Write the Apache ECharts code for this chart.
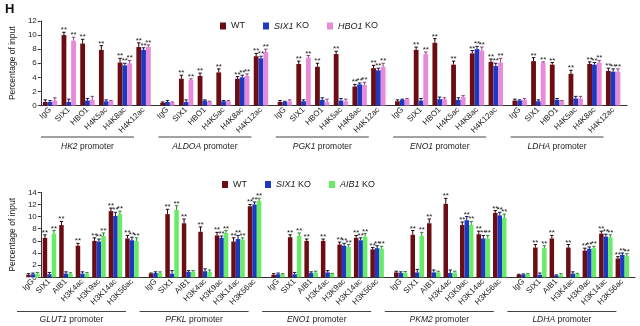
<!DOCTYPE html>
<html><head><meta charset="utf-8">
<script src="https://cdn.jsdelivr.net/npm/echarts@6/dist/echarts.min.js"></script>
<style>html,body{margin:0;padding:0;background:#fff}#c{width:640px;height:326px}</style>
</head><body><div id="c"></div>
<script>
// ---------- DATA ----------
const topGroups = ['HK2','ALDOA','PGK1','ENO1','LDHA'];
const topCats = ['IgG','SIX1','HBO1','H4K5ac','H4K8ac','H4K12ac'];
const topWT = [
  [0.5,10.0,8.8,7.9,6.1,8.3],
  [0.4,3.8,4.2,4.7,3.8,7.0],
  [0.5,5.9,5.5,7.3,2.7,5.3],
  [0.6,7.9,8.9,5.8,7.4,6.2],
  [0.7,6.3,5.8,4.5,5.9,4.9]];
const topSIX1KO = [
  [0.5,0.5,0.7,0.6,5.7,7.9],
  [0.5,0.5,0.7,0.6,4.0,6.7],
  [0.5,0.6,0.8,0.7,3.0,5.0],
  [0.8,0.7,0.9,0.8,8.0,5.6],
  [0.7,0.6,0.8,1.0,5.8,4.8]];
const topHBO1KO = [
  [0.7,9.2,0.8,0.6,6.0,8.3],
  [0.4,3.6,0.5,0.6,4.2,7.6],
  [0.6,6.8,0.5,0.6,2.9,5.5],
  [0.9,7.3,0.9,1.2,7.8,6.1],
  [0.8,6.1,0.6,1.0,6.1,4.8]];
const topWTErr = [
  [0.3,0.4,0.6,0.6,0.6,0.6],
  [0.1,0.5,0.4,0.5,0.3,0.4],
  [0.2,0.4,0.5,0.4,0.3,0.4],
  [0.2,0.4,0.6,0.5,0.4,0.4],
  [0.2,0.5,0.3,0.5,0.3,0.4]];
const topSIX1KOErr = [
  [0.2,0.4,0.3,0.2,0.3,0.3],
  [0.2,0.3,0.1,0.1,0.3,0.3],
  [0.1,0.2,0.3,0.3,0.2,0.3],
  [0.1,0.3,0.3,0.3,0.4,0.4],
  [0.1,0.2,0.2,0.3,0.3,0.4]];
const topHBO1KOErr = [
  [0.4,0.5,0.5,0.1,0.4,0.3],
  [0.1,0.2,0.1,0.1,0.3,0.4],
  [0.2,0.3,0.4,0.3,0.4,0.5],
  [0.1,0.3,0.2,0.2,0.5,0.6],
  [0.2,0.1,0.1,0.3,0.3,0.4]];
const topSigWT     = ['','**','**','**','**','**'];
const topSigSIX1KO = ['','','','','**','**'];
const topSigHBO1KO = ['','**','','','**','**'];

const botGroups = ['GLUT1','PFKL','ENO1','PKM2','LDHA'];
const botCats = ['IgG','SIX1','AIB1','H3K4ac','H3K9ac','H3K14ac','H3K56ac'];
const botWT = [
  [0.4,6.5,8.6,5.2,6.0,10.9,6.4],
  [0.6,10.4,8.9,7.5,6.9,5.9,11.7],
  [0.4,6.6,6.0,6.0,5.4,6.5,4.6],
  [0.8,7.0,8.9,12.1,8.6,7.1,10.6],
  [0.4,4.9,6.4,4.9,4.4,7.2,3.1]];
const botSIX1KO = [
  [0.5,0.5,0.6,0.6,5.9,10.1,6.1],
  [0.7,0.6,0.9,1.0,6.5,6.3,12.0],
  [0.5,0.5,0.7,0.8,5.2,6.1,4.8],
  [0.7,0.8,0.8,0.7,9.4,6.4,10.2],
  [0.45,0.4,0.3,0.6,4.7,6.7,3.7]];
const botAIB1KO = [
  [0.6,7.2,0.55,0.6,6.8,10.4,6.0],
  [0.7,11.1,0.9,0.9,7.3,6.2,12.6],
  [0.5,6.8,0.8,0.55,5.0,6.7,4.7],
  [0.75,6.8,0.8,0.8,8.6,6.4,9.8],
  [0.5,4.8,0.4,0.55,4.8,6.6,3.5]];
const botWTErr = [
  [0.2,0.5,0.6,0.4,0.5,0.5,0.5],
  [0.1,0.8,0.7,0.8,0.5,0.6,0.3],
  [0.2,0.4,0.3,0.3,0.4,0.4,0.3],
  [0.2,0.7,0.7,0.9,0.5,0.5,0.4],
  [0.1,0.5,0.5,0.5,0.4,0.4,0.3]];
const botSIX1KOErr = [
  [0.2,0.3,0.3,0.3,0.4,0.6,0.5],
  [0.2,0.5,0.2,0.4,0.3,0.6,0.4],
  [0.2,0.3,0.2,0.3,0.4,0.4,0.4],
  [0.2,0.5,0.4,0.5,0.6,0.5,0.5],
  [0.1,0.3,0.1,0.3,0.3,0.4,0.3]];
const botAIB1KOErr = [
  [0.2,0.5,0.2,0.2,0.5,0.5,0.5],
  [0.2,0.7,0.2,0.3,0.4,0.3,0.4],
  [0.1,0.5,0.2,0.1,0.4,0.5,0.4],
  [0.2,0.6,0.2,0.2,0.6,0.5,0.6],
  [0.1,0.4,0.2,0.1,0.3,0.4,0.4]];
const botSigWT     = ['','**','**','**','**','**','**'];
const botSigSIX1KO = ['','','','','**','**','**'];
const botSigAIB1KO = ['','**','','','**','**','**'];

// ---------- STYLE ----------
const C_WT = '#6b0d12', C_SIX1 = '#1c39c4', C_HBO1 = '#e68ad9', C_AIB1 = '#68ec68';
const E_WT = '#2a0306', E_SIX1 = '#0a1660', E_HBO1 = '#8a3f82', E_AIB1 = '#2a8a2a';
const FONT = 'Liberation Sans, Arial, sans-serif';
const TXT = '#222';

const option = {animation:false, textStyle:{fontFamily:FONT}, grid:[], xAxis:[], yAxis:[], series:[], legend:[], graphic:[]};

function addPanel(p){
  const base = option.grid.length;
  const h = p.zeroY - p.top;
  option.grid.push({left:p.left, width:p.right-p.left, top:p.top, height:h});
  option.xAxis.push({gridIndex:base, type:'category', data:p.groups, boundaryGap:true,
    axisLine:{lineStyle:{color:'#333', width:1}},
    axisTick:{inside:true, length:3, lineStyle:{color:'#333'}},
    axisLabel:{show:false}});
  option.yAxis.push({gridIndex:base, type:'value', min:0, max:p.max, interval:2,
    splitLine:{show:false},
    axisLine:{show:true, lineStyle:{color:'#333'}},
    axisTick:{show:true, length:3, lineStyle:{color:'#333'}},
    axisLabel:{fontSize:8, color:TXT, margin:4, fontFamily:FONT},
    name:'Percentage of input', nameLocation:'middle', nameGap:p.nameGap,
    nameTextStyle:{fontSize:8.5, color:TXT, fontFamily:FONT}});
  const gw = (p.right - p.left)/p.groups.length;
  p.groups.forEach((gName, g) => {
    const gi = option.grid.length;
    const gl = p.left + g*gw + p.padL;
    option.grid.push({left:gl, width:p.cats.length*p.catW, top:p.top, height:h});
    option.xAxis.push({gridIndex:gi, type:'category', data:p.cats,
      axisLine:{show:false}, axisTick:{show:false},
      axisLabel:{interval:0, rotate:45, fontSize:8, color:TXT, margin:3, fontFamily:FONT}});
    option.yAxis.push({gridIndex:gi, type:'value', min:0, max:p.max, show:false});
    p.series.forEach(s => {
      option.series.push({type:'bar', name:s.name, xAxisIndex:gi, yAxisIndex:gi,
        data:s.values[g], barWidth:p.bw, barGap:'0%', itemStyle:{color:s.color}, silent:true});
    });
    const errData = [];
    p.series.forEach((s, si) => s.values[g].forEach((v, ci) =>
      errData.push([ci, v, si, s.errors[g][ci], s.sig[ci] === '**' ? 1 : 0])));
    option.series.push({type:'custom', xAxisIndex:gi, yAxisIndex:gi, data:errData,
      encode:{x:0, y:1}, clip:false, z:5, silent:true,
      renderItem:(params, api) => {
        const ci = api.value(0), v = api.value(1), si = api.value(2), e = api.value(3), sg = api.value(4);
        const b = api.coord([ci, v]);
        const t = api.coord([ci, v + e]);
        const x = b[0] + (si - 1) * p.bw;
        const col = p.series[si].ecolor;
        const children = [
          {type:'line', shape:{x1:x, y1:b[1], x2:x, y2:t[1]}, style:{stroke:col, lineWidth:1}},
          {type:'line', shape:{x1:x-1.7, y1:t[1], x2:x+1.7, y2:t[1]}, style:{stroke:col, lineWidth:1}}
        ];
        if (sg) children.push({type:'text', x:x, y:t[1]+1.8, style:{text:'**', fill:'#1a1a1a',
          font:'8px ' + FONT, align:'center', verticalAlign:'bottom'}});
        return {type:'group', children};
      }});
    // promoter label with underline
    const lx1 = p.left + g*gw + p.lineOff, lx2 = lx1 + p.lineLen;
    option.graphic.push({type:'line', shape:{x1:lx1, y1:p.lineY, x2:lx2, y2:p.lineY},
      style:{stroke:'#444', lineWidth:1}, silent:true});
    option.graphic.push({type:'text', x:(lx1+lx2)/2, y:p.labelY, silent:true,
      style:{text:'{i|' + gName + '} promoter', fill:TXT, font:'8.5px ' + FONT,
        align:'center', verticalAlign:'middle',
        rich:{i:{fontStyle:'italic', fontSize:8.5, fontFamily:FONT, fill:TXT}}}});
  });
  option.legend.push({data:p.series.map(s => s.name), left:p.legendLeft, top:p.legendTop,
    icon:'rect', itemWidth:6, itemHeight:7, itemGap:18, selectedMode:false,
    formatter: n => n === 'WT' ? 'WT' : '{i|' + n.replace(' KO','') + '} KO',
    textStyle:{fontSize:9, color:TXT, fontFamily:FONT,
      rich:{i:{fontStyle:'italic', fontSize:9, color:TXT, fontFamily:FONT}}}});
}

addPanel({groups:topGroups, cats:topCats, left:40, right:627, top:21, zeroY:105.5, max:12,
  nameGap:22, padL:0.7, catW:18.7, bw:4.8, lineOff:1, lineLen:93, lineY:137, labelY:146.5,
  legendLeft:215, legendTop:16.5,
  series:[
    {name:'WT', values:topWT, errors:topWTErr, sig:topSigWT, color:C_WT, ecolor:E_WT},
    {name:'SIX1 KO', values:topSIX1KO, errors:topSIX1KOErr, sig:topSigSIX1KO, color:C_SIX1, ecolor:E_SIX1},
    {name:'HBO1 KO', values:topHBO1KO, errors:topHBO1KOErr, sig:topSigHBO1KO, color:C_HBO1, ecolor:E_HBO1}]});

addPanel({groups:botGroups, cats:botCats, left:22, right:635, top:192.3, zeroY:277.3, max:14,
  nameGap:11, padL:2.7, catW:16.5, bw:4.5, lineOff:-5, lineLen:109, lineY:311.5, labelY:319.5,
  legendLeft:217, legendTop:175,
  series:[
    {name:'WT', values:botWT, errors:botWTErr, sig:botSigWT, color:C_WT, ecolor:E_WT},
    {name:'SIX1 KO', values:botSIX1KO, errors:botSIX1KOErr, sig:botSigSIX1KO, color:C_SIX1, ecolor:E_SIX1},
    {name:'AIB1 KO', values:botAIB1KO, errors:botAIB1KOErr, sig:botSigAIB1KO, color:C_AIB1, ecolor:E_AIB1}]});

option.graphic.push({type:'text', left:5, top:3, silent:true,
  style:{text:'H', fill:'#111', font:'bold 13px ' + FONT}});

const chart = echarts.init(document.getElementById('c'), null, {renderer:'canvas'});
chart.setOption(option);
</script></body></html>
